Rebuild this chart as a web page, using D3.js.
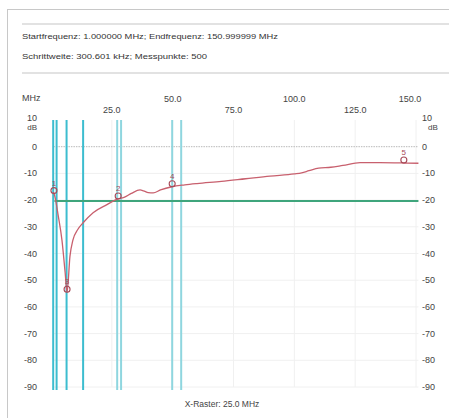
<!DOCTYPE html>
<html><head><meta charset="utf-8">
<script src="https://cdn.jsdelivr.net/npm/d3@7"></script>
<style>body{margin:0;background:#fff}svg{display:block}</style></head>
<body><svg id="c" width="449" height="418"></svg>
<script>
// ---- data ----
const freqMHz = [1, 1.6, 3, 4.5, 5.8, 6.6, 7.8, 9, 11, 13.2, 17.3, 23, 27, 30, 33, 36.6, 38, 40, 42, 45, 49.7, 55, 60, 70, 80, 90, 100, 103, 106, 110, 115, 120, 127, 135, 145, 151];
const levelDb = [-17, -18.7, -26, -35, -47, -54.5, -41, -35, -31, -28.5, -24.7, -21.7, -19.7, -19, -17.5, -16.2, -16.5, -17.2, -17.3, -16.2, -15.0, -14.3, -13.8, -13, -12, -11, -10.2, -9.8, -9, -8, -7.7, -7, -6.0, -6.0, -6.1, -6.2];
const xTicks = [25, 50, 75, 100, 125, 150];
const xTickLabels = ["25.0", "50.0", "75.0", "100.0", "125.0", "150.0"];
const yTicks = [10, 0, -10, -20, -30, -40, -50, -60, -70, -80, -90];
const cursorFreqs = [0.9, 2.3, 6.4, 13.2, 27.2, 28.8, 49.8, 53.5];
const cursorStrong = [true, true, true, true, false, false, false, false];
const markerIds = ["1", "2", "3", "4", "5"];
const markerFreqs = [1.2, 27.6, 6.6, 49.8, 145];
const thresholdDb = -20;
const headerLines = ["Startfrequenz: 1.000000 MHz; Endfrequenz: 150.999999 MHz", "Schrittweite: 300.601 kHz; Messpunkte: 500"];
const footer = "X-Raster: 25.0 MHz";

// ---- drawing ----
const svg = d3.select("#c");
const font = "'Liberation Sans', Arial, sans-serif";
const x = d3.scaleLinear().domain([0, 150]).range([51, 416]);
const y = d3.scaleLinear().domain([10, -90]).range([120, 387]);
const x0 = x(1), x1 = x(151);

// frame
svg.append("rect").attr("x", 7.5).attr("y", 9.5).attr("width", 460).attr("height", 430)
  .attr("fill", "none").attr("stroke", "#c8c8c8").attr("stroke-width", 1);
[24, 73].forEach(v => svg.append("line").attr("x1", 22).attr("x2", 449).attr("y1", v).attr("y2", v)
  .attr("stroke", "#e2e2e2").attr("stroke-width", 2));

// header text
svg.append("text").attr("x", 22).attr("y", 39).attr("font-family", font).attr("font-size", 8)
  .attr("fill", "#333").attr("textLength", 256).attr("lengthAdjust", "spacingAndGlyphs").text(headerLines[0]);
svg.append("text").attr("x", 22).attr("y", 59).attr("font-family", font).attr("font-size", 8)
  .attr("fill", "#333").attr("textLength", 185).attr("lengthAdjust", "spacingAndGlyphs").text(headerLines[1]);

// grid
const g = svg.append("g");
yTicks.filter(t => t !== 0 && t !== 10).forEach(t => g.append("line").attr("x1", x0).attr("x2", x1)
  .attr("y1", y(t)).attr("y2", y(t)).attr("stroke", "#f0f0f0").attr("stroke-width", 1));
xTicks.forEach(t => g.append("line").attr("x1", x(t)).attr("x2", x(t))
  .attr("y1", y(10)).attr("y2", y(-90)).attr("stroke", "#f0f0f0").attr("stroke-width", 1));
// 0 dB dotted line
g.append("line").attr("x1", x0).attr("x2", x1).attr("y1", y(0)).attr("y2", y(0))
  .attr("stroke", "#b8b8b8").attr("stroke-width", 1).attr("stroke-dasharray", "1.5,1");

// cursor lines
cursorFreqs.forEach((f, i) => g.append("line").attr("x1", x(f)).attr("x2", x(f))
  .attr("y1", y(10)).attr("y2", y(-90) + 3)
  .attr("stroke", cursorStrong[i] ? "#3cbdcf" : "#8fd6df").attr("stroke-width", 2));

// threshold line
g.append("line").attr("x1", x0 + 1).attr("x2", x1).attr("y1", y(thresholdDb) + 1).attr("y2", y(thresholdDb) + 1)
  .attr("stroke", "#3fa57c").attr("stroke-width", 2);

// curve
const line = d3.line().x((d, i) => x(freqMHz[i])).y((d, i) => y(levelDb[i])).curve(d3.curveMonotoneX);
g.append("path").datum(levelDb).attr("d", line).attr("fill", "none")
  .attr("stroke", "#c8606e").attr("stroke-width", 1.3);

// markers
function interp(f) {
  const i = Math.max(1, d3.bisectLeft(freqMHz, f));
  const fa = freqMHz[i - 1], fb = freqMHz[i];
  return levelDb[i - 1] + (levelDb[i] - levelDb[i - 1]) * (f - fa) / (fb - fa);
}
markerIds.forEach((id, i) => {
  const mx = x(markerFreqs[i]), my = y(interp(markerFreqs[i]));
  g.append("circle").attr("cx", mx).attr("cy", my - 3).attr("r", 3)
    .attr("fill", "none").attr("stroke", "#a84a58").attr("stroke-width", 1.1);
  g.append("text").attr("x", mx).attr("y", my - 8).attr("text-anchor", "middle")
    .attr("font-family", font).attr("font-size", 8).attr("fill", "#a84a58").text(id);
});

// axis labels
const lab = svg.append("g").attr("font-family", font).attr("font-size", 9).attr("fill", "#444");
yTicks.forEach(t => {
  const dy = t === 10 ? 1 : 3;
  lab.append("text").attr("x", 37).attr("y", y(t) + dy).attr("text-anchor", "end").text(t);
  lab.append("text").attr("x", 422).attr("y", y(t) + dy).attr("text-anchor", "start").text(t);
});
lab.append("text").attr("x", 37).attr("y", y(10) + 10).attr("text-anchor", "end").attr("font-size", 8).text("dB");
lab.append("text").attr("x", 428).attr("y", y(10) + 10).attr("text-anchor", "start").attr("font-size", 8).text("dB");
lab.append("text").attr("x", 22).attr("y", 101).text("MHz");
xTicks.forEach((t, i) => {
  const upper = i % 2 === 1;
  lab.append("text").attr("x", t === 150 ? x(t) - 6 : x(t)).attr("y", upper ? 102 : 113)
    .attr("text-anchor", "middle").text(xTickLabels[i]);
});
lab.append("text").attr("x", 222).attr("y", 407).attr("text-anchor", "middle").attr("font-size", 8.5).text(footer);
</script></body></html>
